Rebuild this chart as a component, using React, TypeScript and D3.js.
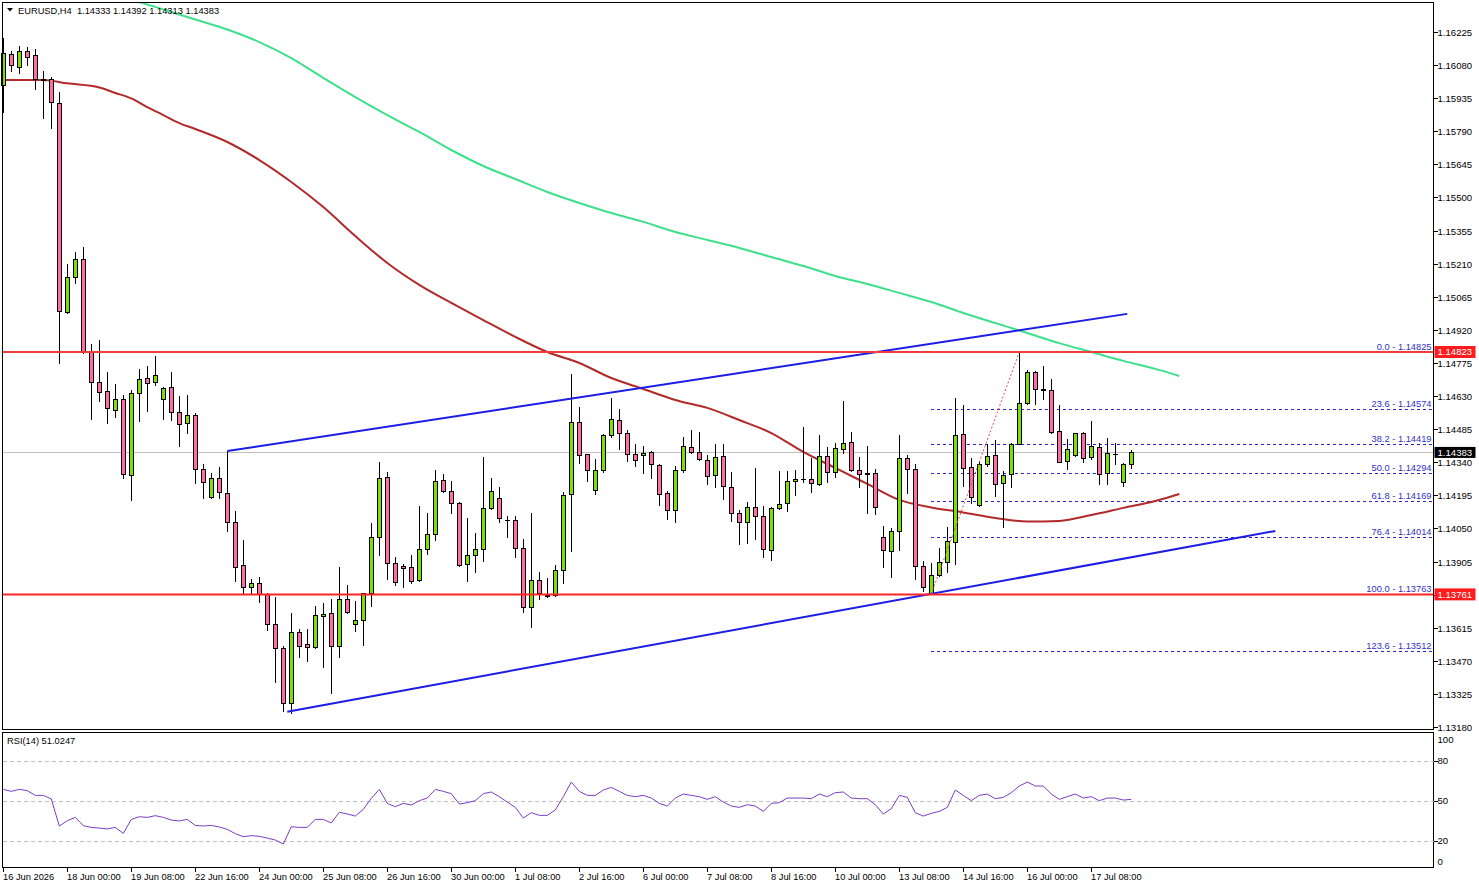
import React, { useEffect } from "react";
import * as d3 from "d3";

const W = 1479;
const H = 888;
const FONT = "'Liberation Sans', Arial, sans-serif";

// [open, high, low, close] per H4 bar
const ohlc: [number, number, number, number][] = [
  [1.15993, 1.16197, 1.15876, 1.16132], [1.16127, 1.16143, 1.16055, 1.16080], [1.16070, 1.16164, 1.16044, 1.16143],
  [1.16143, 1.16161, 1.16082, 1.16117], [1.16123, 1.16149, 1.15977, 1.16018], [1.16018, 1.16055, 1.15850, 1.16015],
  [1.16018, 1.16027, 1.15806, 1.15917], [1.15913, 1.15962, 1.14776, 1.15004], [1.14998, 1.15209, 1.14995, 1.15153],
  [1.15150, 1.15261, 1.15127, 1.15229], [1.15229, 1.15282, 1.14817, 1.14823], [1.14823, 1.14858, 1.14531, 1.14692],
  [1.14692, 1.14876, 1.14610, 1.14649], [1.14652, 1.14735, 1.14511, 1.14576], [1.14568, 1.14683, 1.14537, 1.14616],
  [1.14616, 1.14635, 1.14270, 1.14287], [1.14283, 1.14657, 1.14175, 1.14642], [1.14642, 1.14747, 1.14522, 1.14706],
  [1.14708, 1.14762, 1.14566, 1.14686], [1.14690, 1.14806, 1.14677, 1.14721], [1.14616, 1.14671, 1.14531, 1.14664],
  [1.14668, 1.14735, 1.14525, 1.14559], [1.14559, 1.14630, 1.14411, 1.14506], [1.14511, 1.14635, 1.14470, 1.14546],
  [1.14546, 1.14555, 1.14251, 1.14309], [1.14309, 1.14332, 1.14185, 1.14252], [1.14186, 1.14292, 1.14185, 1.14270],
  [1.14270, 1.14321, 1.14185, 1.14208], [1.14204, 1.14391, 1.14039, 1.14077], [1.14077, 1.14126, 1.13821, 1.13882],
  [1.13889, 1.14000, 1.13763, 1.13792], [1.13792, 1.13829, 1.13763, 1.13810], [1.13810, 1.13837, 1.13729, 1.13762],
  [1.13762, 1.13766, 1.13605, 1.13630], [1.13630, 1.13751, 1.13376, 1.13525], [1.13525, 1.13535, 1.13250, 1.13287],
  [1.13287, 1.13681, 1.13243, 1.13596], [1.13596, 1.13608, 1.13488, 1.13534], [1.13543, 1.13610, 1.13471, 1.13529],
  [1.13532, 1.13712, 1.13528, 1.13670], [1.13665, 1.13723, 1.13444, 1.13675], [1.13678, 1.13741, 1.13331, 1.13534],
  [1.13536, 1.13882, 1.13488, 1.13740], [1.13740, 1.13802, 1.13681, 1.13685], [1.13630, 1.13732, 1.13602, 1.13648],
  [1.13648, 1.13769, 1.13541, 1.13766], [1.13769, 1.14074, 1.13712, 1.14011], [1.14011, 1.14341, 1.13935, 1.14270],
  [1.14274, 1.14297, 1.13830, 1.13897], [1.13897, 1.13926, 1.13802, 1.13814], [1.13884, 1.13894, 1.13795, 1.13875],
  [1.13880, 1.13934, 1.13810, 1.13821], [1.13823, 1.14148, 1.13820, 1.13959], [1.13962, 1.14116, 1.13939, 1.14024],
  [1.14024, 1.14306, 1.14000, 1.14257], [1.14261, 1.14289, 1.14210, 1.14213], [1.14213, 1.14258, 1.14119, 1.14160],
  [1.14160, 1.14167, 1.13887, 1.13889], [1.13893, 1.14096, 1.13821, 1.13932], [1.13932, 1.14030, 1.13859, 1.13959],
  [1.13959, 1.14363, 1.13909, 1.14138], [1.14138, 1.14271, 1.14136, 1.14213], [1.14182, 1.14232, 1.14078, 1.14094],
  [1.14088, 1.14105, 1.14014, 1.14086], [1.14086, 1.14105, 1.13926, 1.13963], [1.13963, 1.14003, 1.13685, 1.13707],
  [1.13707, 1.14116, 1.13617, 1.13823], [1.13823, 1.13859, 1.13740, 1.13766], [1.13757, 1.13833, 1.13748, 1.13754],
  [1.13758, 1.13889, 1.13756, 1.13867], [1.13867, 1.14208, 1.13812, 1.14198], [1.14200, 1.14727, 1.13953, 1.14515],
  [1.14515, 1.14582, 1.14335, 1.14372], [1.14375, 1.14378, 1.14259, 1.14305], [1.14217, 1.14353, 1.14202, 1.14305],
  [1.14305, 1.14462, 1.14299, 1.14458], [1.14458, 1.14620, 1.14452, 1.14528], [1.14524, 1.14573, 1.14399, 1.14467],
  [1.14467, 1.14480, 1.14347, 1.14375], [1.14375, 1.14420, 1.14325, 1.14351], [1.14370, 1.14411, 1.14294, 1.14379],
  [1.14384, 1.14389, 1.14272, 1.14331], [1.14327, 1.14332, 1.14152, 1.14202], [1.14204, 1.14215, 1.14093, 1.14130],
  [1.14130, 1.14322, 1.14080, 1.14305], [1.14305, 1.14451, 1.14299, 1.14410], [1.14406, 1.14480, 1.14379, 1.14384],
  [1.14384, 1.14471, 1.14350, 1.14353], [1.14349, 1.14370, 1.14244, 1.14279], [1.14283, 1.14419, 1.14230, 1.14362],
  [1.14366, 1.14419, 1.14178, 1.14235], [1.14230, 1.14296, 1.14081, 1.14116], [1.14116, 1.14130, 1.13981, 1.14077],
  [1.14077, 1.14165, 1.13985, 1.14143], [1.14143, 1.14314, 1.14003, 1.14103], [1.14103, 1.14147, 1.13926, 1.13959],
  [1.13954, 1.14145, 1.13911, 1.14138], [1.14138, 1.14302, 1.14135, 1.14156], [1.14160, 1.14302, 1.14125, 1.14257],
  [1.14257, 1.14305, 1.14195, 1.14265], [1.14265, 1.14493, 1.14252, 1.14266], [1.14265, 1.14360, 1.14208, 1.14248],
  [1.14244, 1.14458, 1.14239, 1.14366], [1.14366, 1.14406, 1.14252, 1.14296], [1.14296, 1.14423, 1.14274, 1.14401],
  [1.14397, 1.14607, 1.14379, 1.14423], [1.14428, 1.14471, 1.14301, 1.14305], [1.14305, 1.14362, 1.14230, 1.14287],
  [1.14290, 1.14410, 1.14116, 1.14292], [1.14292, 1.14309, 1.14112, 1.14143], [1.14011, 1.14060, 1.13882, 1.13954],
  [1.13950, 1.14051, 1.13839, 1.14038], [1.14038, 1.14458, 1.13954, 1.14357], [1.14357, 1.14370, 1.14204, 1.14309],
  [1.14309, 1.14331, 1.13827, 1.13884], [1.13884, 1.13906, 1.13775, 1.13792], [1.13766, 1.13897, 1.13763, 1.13845],
  [1.13845, 1.13963, 1.13843, 1.13902], [1.13905, 1.14055, 1.13858, 1.13993], [1.13992, 1.14623, 1.13896, 1.14459],
  [1.14462, 1.14591, 1.14237, 1.14316], [1.14318, 1.14357, 1.14160, 1.14189], [1.14152, 1.14342, 1.14150, 1.14331],
  [1.14331, 1.14419, 1.14322, 1.14366], [1.14370, 1.14436, 1.14193, 1.14244], [1.14248, 1.14300, 1.14058, 1.14283],
  [1.14287, 1.14423, 1.14233, 1.14420], [1.14420, 1.14823, 1.14418, 1.14598], [1.14598, 1.14746, 1.14594, 1.14734],
  [1.14734, 1.14741, 1.14597, 1.14660], [1.14660, 1.14763, 1.14616, 1.14658], [1.14655, 1.14706, 1.14467, 1.14473],
  [1.14476, 1.14591, 1.14340, 1.14342], [1.14344, 1.14441, 1.14309, 1.14397], [1.14370, 1.14470, 1.14368, 1.14467],
  [1.14467, 1.14471, 1.14342, 1.14357], [1.14362, 1.14521, 1.14353, 1.14410], [1.14406, 1.14423, 1.14244, 1.14287],
  [1.14292, 1.14445, 1.14244, 1.14379], [1.14378, 1.14423, 1.14331, 1.14376], [1.14252, 1.14336, 1.14235, 1.14331],
  [1.14333, 1.14392, 1.14313, 1.14383],
];

// moving averages sampled as [bar index, price]
const maRed: [number, number][] = [
  [0, 1.16015], [5, 1.16015], [8, 1.16000], [12, 1.15982], [14, 1.15958], [16, 1.15934], [18, 1.15896],
  [20, 1.15861], [22, 1.15826], [24, 1.15800], [28, 1.15743], [32, 1.15664], [36, 1.15568], [40, 1.15458],
  [44, 1.15331], [48, 1.15213], [52, 1.15117], [56, 1.15038], [60, 1.14963], [64, 1.14889], [68, 1.14823],
  [72, 1.14775], [76, 1.14709], [80, 1.14661], [84, 1.14613], [88, 1.14578], [92, 1.14525], [96, 1.14468],
  [100, 1.14385], [104, 1.14315], [108, 1.14245], [112, 1.14175], [116, 1.14142], [120, 1.14120], [124, 1.14096],
  [128, 1.14080], [132, 1.14083], [136, 1.14109], [140, 1.14140], [144, 1.14170], [147, 1.14201],
];
const maGreen: [number, number][] = [
  [17, 1.16356], [20, 1.16324], [24, 1.16280], [28, 1.16236], [32, 1.16181], [36, 1.16111], [40, 1.16024],
  [44, 1.15940], [48, 1.15861], [52, 1.15787], [56, 1.15708], [60, 1.15638], [64, 1.15581], [68, 1.15524],
  [72, 1.15476], [76, 1.15432], [80, 1.15393], [84, 1.15349], [88, 1.15314], [92, 1.15279], [96, 1.15239],
  [100, 1.15200], [104, 1.15156], [108, 1.15121], [112, 1.15082], [116, 1.15042], [120, 1.14994], [124, 1.14950],
  [128, 1.14906], [132, 1.14862], [136, 1.14823], [140, 1.14784], [144, 1.14749], [147, 1.14718],
];

const rsi: number[] = [
  58.5, 57.0, 58.5, 57.5, 54.0, 54.0, 51.3, 31.0, 35.0, 37.5,
  31.3, 30.0, 29.5, 28.8, 30.0, 25.5, 36.0, 38.0, 37.5, 38.8,
  37.5, 35.5, 34.8, 36.0, 31.5, 31.0, 31.5, 30.3, 28.5, 25.3,
  23.0, 23.8, 23.3, 22.0, 20.5, 17.5, 30.5, 30.0, 30.0, 36.0,
  36.0, 33.3, 41.3, 40.0, 38.5, 43.5, 51.8, 58.5, 48.0, 45.5,
  48.0, 46.8, 50.0, 52.0, 58.5, 57.0, 55.3, 47.5, 48.5, 50.0,
  55.3, 56.5, 53.0, 49, 45, 37, 41, 39, 39, 43,
  53, 64, 57, 54, 54, 58, 60, 57, 54, 53,
  54, 52, 48, 46, 52, 55, 54, 53, 51, 53,
  49, 46, 45, 47, 46, 42, 48, 48.5, 52, 52,
  52, 51.5, 55, 53, 56, 56.5, 52, 51.5, 51.5, 47,
  40, 44, 54, 52.5, 41, 38.5, 40.5, 42, 45, 58,
  54, 50, 54, 55, 51.5, 52.5, 56, 61, 64, 61,
  61, 55, 51, 53, 55, 52, 53, 50, 52, 52,
  50.5, 51.0,
];

const timeLabels = [
  "16 Jun 2026", "18 Jun 00:00", "19 Jun 08:00", "22 Jun 16:00", "24 Jun 00:00", "25 Jun 08:00",
  "26 Jun 16:00", "30 Jun 00:00", "1 Jul 08:00", "2 Jul 16:00", "6 Jul 00:00", "7 Jul 08:00",
  "8 Jul 16:00", "10 Jul 00:00", "13 Jul 08:00", "14 Jul 16:00", "16 Jul 00:00", "17 Jul 08:00",
];
const timeLabelBars = [0, 8, 16, 24, 32, 40, 48, 56, 64, 72, 80, 88, 96, 104, 112, 120, 128, 136];

const priceTicks = [
  "1.16225", "1.16080", "1.15935", "1.15790", "1.15645", "1.15500", "1.15355", "1.15210", "1.15065",
  "1.14920", "1.14775", "1.14630", "1.14485", "1.14340", "1.14195", "1.14050", "1.13905", "1.13760",
  "1.13615", "1.13470", "1.13325", "1.13180",
];
const rsiTicks = [100, 80, 50, 20, 0];
const rsiLevels = [80, 50, 20];

const fibLevels = ["0.0", "23.6", "38.2", "50.0", "61.8", "76.4", "100.0", "123.6"];
const fibPrices = [1.14825, 1.14574, 1.14419, 1.14294, 1.14169, 1.14014, 1.13763, 1.13512];
const fibAnchor: [number, number][] = [[116, 1.13763], [127, 1.14823]];

const upperTrend: [number, number][] = [[28, 1.14389], [140.5, 1.1499]];
const lowerTrend: [number, number][] = [[35.5, 1.13247], [159, 1.14039]];
const redLevels = [1.14823, 1.13761];
const lastPrice = 1.14383;
const header = "EURUSD,H4  1.14333 1.14392 1.14313 1.14383";
const rsiHeader = "RSI(14) 51.0247";

const L = 2.5, R = 1433.5, T = 2.5, B = 729.5, RT = 732.5, RB = 867.5;

export default function App() {
  useEffect(() => {
    document.body.style.margin = "0";
  }, []);

  const x = d3.scaleLinear().domain([0, 141]).range([3.3, 1131.3]);
  const y = d3.scaleLinear().domain([1.16225, 1.1318]).range([32, 727]);
  const yr = d3.scaleLinear().domain([0, 100]).range([867.4, 734]);

  const maLine = d3.line<[number, number]>().x((d) => x(d[0])).y((d) => y(d[1])).curve(d3.curveMonotoneX);
  const segLine = d3.line<[number, number]>().x((d) => x(d[0])).y((d) => y(d[1]));
  const rsiLine = d3.line<number>().x((_, i) => x(i)).y((d) => yr(d));

  const green = "#7ce000";
  const pink = "#ff6aa8";

  return (
    <svg width={W} height={H} style={{ position: "absolute", left: 0, top: 0, background: "#fff" }} fontFamily={FONT}>
      <defs>
        <clipPath id="mainClip">
          <rect x={L} y={T} width={R - L} height={B - T} />
        </clipPath>
        <clipPath id="rsiClip">
          <rect x={L} y={RT} width={R - L} height={RB - RT} />
        </clipPath>
      </defs>
      <rect x={0} y={0} width={W} height={H} fill="#fff" />

      {/* current price line */}
      <line x1={L} x2={R} y1={Math.round(y(lastPrice)) + 0.5} y2={Math.round(y(lastPrice)) + 0.5} stroke="#c0c0c0" strokeWidth={1} shapeRendering="crispEdges" />

      {/* fib dashed levels */}
      <g clipPath="url(#mainClip)">
        {fibPrices.map((p, i) => (
          <g key={"fib" + i}>
            <line x1={x(fibAnchor[0][0])} x2={R - 1} y1={Math.round(y(p)) + 0.5} y2={Math.round(y(p)) + 0.5} stroke="#2626c8" strokeDasharray="3,3" strokeWidth={1} shapeRendering="crispEdges" />
            <text x={R - 2} y={Math.round(y(p)) - 2} textAnchor="end" fontSize={9.3} fill="#3030c8">
              {fibLevels[i] + " - " + p.toFixed(5)}
            </text>
          </g>
        ))}
      </g>

      {/* moving averages */}
      <g clipPath="url(#mainClip)" fill="none">
        <path d={maLine(maGreen) || ""} stroke="#3fe08c" strokeWidth={2} />
        <path d={maLine(maRed) || ""} stroke="#b22a2a" strokeWidth={2} />
      </g>

      {/* candles */}
      <g shapeRendering="crispEdges">
        {ohlc.map((c, i) => {
          const [o, h, l, cl] = c;
          const cx = Math.round(x(i));
          const yTop = Math.round(y(Math.max(o, cl)));
          const yBot = Math.round(y(Math.min(o, cl)));
          const yH = Math.round(y(h));
          const yL = Math.round(y(l));
          const bull = cl > o;
          return (
            <g key={"c" + i}>
              <line x1={cx + 0.5} x2={cx + 0.5} y1={yH} y2={yL + 1} stroke="#000" strokeWidth={1} />
              {yBot - yTop < 1 ? (
                <line x1={cx - 2} x2={cx + 3} y1={yTop + 0.5} y2={yTop + 0.5} stroke="#000" strokeWidth={1} />
              ) : (
                <rect x={cx - 1.5} y={yTop + 0.5} width={4} height={yBot - yTop} fill={bull ? green : pink} stroke="#000" strokeWidth={1} />
              )}
            </g>
          );
        })}
      </g>

      {/* trend lines */}
      <g clipPath="url(#mainClip)" fill="none">
        <path d={segLine(upperTrend) || ""} stroke="#1c1ce6" strokeWidth={2} />
        <path d={segLine(lowerTrend) || ""} stroke="#1c1ce6" strokeWidth={2} />
        <path d={segLine(fibAnchor) || ""} stroke="#e84a4a" strokeWidth={1} strokeDasharray="2,2" />
      </g>

      {/* horizontal red levels */}
      {redLevels.map((p, i) => (
        <line key={"rl" + i} x1={L} x2={R} y1={y(p)} y2={y(p)} stroke={i === 0 ? "#ee3c3c" : "#ff2424"} strokeWidth={2} />
      ))}

      {/* frames */}
      <g fill="none" stroke="#000" strokeWidth={1} shapeRendering="crispEdges">
        <rect x={L} y={T} width={R - L} height={B - T} />
        <rect x={L} y={RT} width={R - L} height={RB - RT} />
      </g>

      {/* price axis */}
      <g fontSize={9.6} fill="#000">
        {priceTicks.map((t, i) => {
          const yy = Math.round(y(+t)) + 0.5;
          return (
            <g key={"pt" + i}>
              <line x1={R} x2={R + 4} y1={yy} y2={yy} stroke="#000" shapeRendering="crispEdges" />
              <text x={R + 4} y={yy} dominantBaseline="central">{t}</text>
            </g>
          );
        })}
      </g>

      {/* price boxes */}
      {redLevels.map((p, i) => (
        <g key={"rb" + i}>
          <rect x={R + 1} y={y(p) - 6} width={41} height={12} fill="#ff1c1c" />
          <text x={R + 4} y={y(p)} dominantBaseline="central" fontSize={9.6} fill="#fff">{p.toFixed(5)}</text>
        </g>
      ))}
      <rect x={R + 1} y={y(lastPrice) - 5.5} width={41} height={11} fill="#000" />
      <text x={R + 4} y={y(lastPrice)} dominantBaseline="central" fontSize={9.6} fill="#fff">{lastPrice.toFixed(5)}</text>

      {/* header */}
      <path d="M7,8 L13,8 L10,11.5 Z" fill="#000" />
      <text x={18} y={10.5} dominantBaseline="central" fontSize={9.3} fill="#000" style={{ whiteSpace: "pre" }}>{header}</text>

      {/* RSI panel */}
      <g shapeRendering="crispEdges">
        {rsiLevels.map((v) => (
          <line key={"rv" + v} x1={L} x2={R} y1={Math.round(yr(v)) + 0.5} y2={Math.round(yr(v)) + 0.5} stroke="#c0c0c0" strokeDasharray="4,3" />
        ))}
      </g>
      <g clipPath="url(#rsiClip)">
        <path d={rsiLine(rsi) || ""} fill="none" stroke="#7c3cc4" strokeWidth={1} />
      </g>
      <text x={7} y={741} dominantBaseline="central" fontSize={9.3} fill="#000">{rsiHeader}</text>
      <g fontSize={9.6} fill="#000">
        {rsiTicks.map((v) => {
          const yy = Math.min(Math.max(yr(v), 739.5), 861);
          return (
            <g key={"rt" + v}>
              {v !== 100 && v !== 0 ? (
                <line x1={R} x2={R + 4} y1={Math.round(yr(v)) + 0.5} y2={Math.round(yr(v)) + 0.5} stroke="#000" shapeRendering="crispEdges" />
              ) : null}
              <text x={R + 4} y={yy} dominantBaseline="central">{v}</text>
            </g>
          );
        })}
      </g>

      {/* time axis */}
      <g fontSize={9.3} fill="#000">
        {timeLabels.map((t, i) => {
          const xx = Math.round(x(timeLabelBars[i])) + 0.5;
          return (
            <g key={"tl" + i}>
              <line x1={xx} x2={xx} y1={RB} y2={RB + 4} stroke="#000" shapeRendering="crispEdges" />
              <text x={xx - 0.5} y={877} dominantBaseline="central">{t}</text>
            </g>
          );
        })}
      </g>
    </svg>
  );
}
